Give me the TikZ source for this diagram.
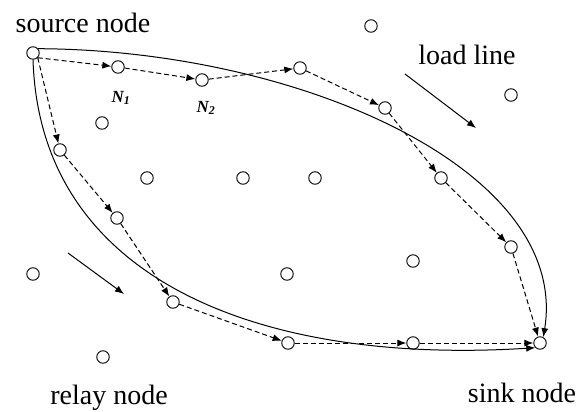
\documentclass[tikz,border=0pt]{standalone}
\usepackage{fontspec}
\setmainfont{Liberation Serif}
\newfontfamily\labelfont{Liberation Serif}
\usetikzlibrary{arrows.meta}

\begin{document}
\begin{tikzpicture}[x=1pt, y=-1pt,
  relay/.style={draw, circle, minimum size=12.5pt, inner sep=0pt, line width=0.9pt},
  hop/.style={-{Latex[length=9pt,width=7pt]}, dash pattern=on 5pt off 3pt, line width=1pt},
  route/.style={-{Latex[length=9pt,width=7pt]}, line width=1pt},
  txt/.style={font=\labelfont\fontsize{28}{30}\selectfont, inner sep=0pt, anchor=base},
  idx/.style={font=\labelfont\fontsize{17}{18}\selectfont\bfseries, inner sep=0pt, anchor=base}]
  \useasboundingbox (0,0) rectangle (578,412);

  % Nodes on the routes
  \node[relay] (source) at (33,53) {};
  \node[relay] (n1) at (118,67) {};
  \node[relay] (n2) at (202,80) {};
  \node[relay] (t3) at (300,68) {};
  \node[relay] (t4) at (385,108) {};
  \node[relay] (t5) at (441,178) {};
  \node[relay] (t6) at (511,247) {};
  \node[relay] (b1) at (60,150) {};
  \node[relay] (b2) at (117,218) {};
  \node[relay] (b3) at (173,302) {};
  \node[relay] (b4) at (288,343) {};
  \node[relay] (b5) at (413,343) {};
  \node[relay] (sink) at (540,343) {};

  % Other relay nodes
  \node[relay] (r1) at (371,26) {};
  \node[relay] (r2) at (511,95) {};
  \node[relay] (r3) at (102,123) {};
  \node[relay] (r4) at (147,178) {};
  \node[relay] (r5) at (243,178) {};
  \node[relay] (r6) at (315,178) {};
  \node[relay] (r7) at (413,261) {};
  \node[relay] (r8) at (33,274) {};
  \node[relay] (r9) at (287,274) {};
  \node[relay] (r10) at (103,357) {};

  % Labels
  \node[txt] (srclabel) at (83,33) {source node};
  \node[txt] (loadlabel) at (467,65) {load line};
  \node[txt] (relaylabel) at (109,404) {relay node};
  \node[txt] (sinklabel) at (522,402) {sink node};
  \node[idx] (n1label) at (121,102) {\itshape N\textsubscript{1}};
  \node[idx] (n2label) at (206,112) {\itshape N\textsubscript{2}};

  % Load direction
  \coordinate (la) at (405,74);
  \coordinate (lb) at (476,128);
  \coordinate (lc) at (68,253);
  \coordinate (ld) at (124,294);
  \draw[route] (la) -- (lb);
  \draw[route] (lc) -- (ld);

  % Hops, upper route
  \draw[hop] (source.south east) -- (n1);
  \draw[hop] (n1) -- (n2);
  \draw[hop] (n2) -- (t3);
  \draw[hop] (t3) -- (t4);
  \draw[hop] (t4) -- (t5);
  \draw[hop] (t5) -- (t6);
  \draw[hop] (t6) -- (sink);

  % Hops, lower route
  \draw[hop] (source.south east) -- (b1);
  \draw[hop] (b1) -- (b2);
  \draw[hop] (b2) -- (b3);
  \draw[hop] (b3) -- (b4);
  \draw[hop] (b4) -- (b5);
  \draw[hop] (b5) -- (sink);

  % Load lines
  \draw[route] (source.40) .. controls (300,50) and (570,170) .. (sink.60);
  \draw[route] (source.south) .. controls (40,280) and (260,365) .. (sink.south west);
\end{tikzpicture}
\end{document}
